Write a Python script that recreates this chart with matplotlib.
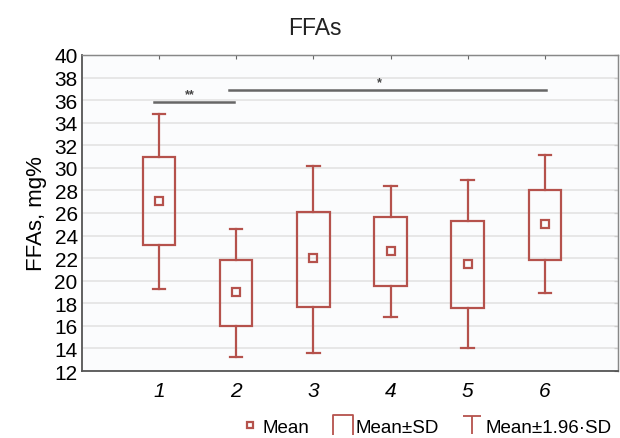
import matplotlib.pyplot as plt
from matplotlib.patches import Rectangle
from matplotlib.lines import Line2D
from matplotlib.path import Path

plt.rcParams['font.family'] = ['Liberation Sans', 'DejaVu Sans']

groups = [1, 2, 3, 4, 5, 6]
means = [27.1, 19.0, 22.0, 22.6, 21.5, 25.0]
sd_low = [23.2, 16.0, 17.7, 19.5, 17.6, 21.8]
sd_high = [31.0, 21.8, 26.1, 25.6, 25.3, 28.0]
ci_low = [19.3, 13.2, 13.6, 16.8, 14.0, 18.9]
ci_high = [34.8, 24.6, 30.2, 28.4, 28.9, 31.1]

# significance bars: (x start, x end, y, label)
sig_bars = [(0.94, 1.97, 35.85, '**'), (1.91, 6.01, 36.9, '*')]

red = '#b5524c'
box_w = 0.42
cap_w = 0.16

fig = plt.figure(figsize=(6.2, 4.39), dpi=100)
ax = fig.add_axes([0.132, 0.1526, 0.865, 0.72])
ax.set_facecolor('#fbfcfd')

for g, m, lo, hi, wl, wh in zip(groups, means, sd_low, sd_high, ci_low, ci_high):
    ax.add_patch(Rectangle((g - box_w / 2, lo), box_w, hi - lo, fill=False,
                           edgecolor=red, lw=1.6, zorder=3))
    ax.plot([g, g], [hi, wh], color=red, lw=1.6, zorder=3)
    ax.plot([g, g], [wl, lo], color=red, lw=1.6, zorder=3)
    ax.plot([g - cap_w / 2, g + cap_w / 2], [wh, wh], color=red, lw=1.6, zorder=3)
    ax.plot([g - cap_w / 2, g + cap_w / 2], [wl, wl], color=red, lw=1.6, zorder=3)
    ax.plot(g, m, marker='s', ms=6, mfc='none', mec=red, mew=1.6, zorder=4)

for x0, x1, y, lab in sig_bars:
    ax.plot([x0, x1], [y, y], color='#666666', lw=1.8, zorder=3)
    ax.text((x0 + x1) / 2 - (0.05 if lab == '**' else 0.1), y + 0.15, lab,
            ha='center', va='bottom', fontsize=9, color='#444444', fontweight='bold')

ax.set_xlim(0, 6.95)
ax.set_ylim(12, 40)
ax.set_yticks(range(12, 41, 2))
ax.set_xticks(groups)
ax.set_xticklabels([str(g) for g in groups], fontstyle='italic', fontsize=15)
ax.tick_params(axis='y', labelsize=15, length=0, pad=3)
ax.tick_params(axis='x', length=0, pad=7)
ax.yaxis.grid(True, color='#e3e3e3', lw=1.2)
ax.set_axisbelow(True)
# small ticks on the top and right spines
sec_x = ax.secondary_xaxis('top')
sec_x.set_xticks(groups)
sec_x.set_xticklabels([])
sec_x.tick_params(direction='in', length=3, color='#666666')
sec_y = ax.secondary_yaxis('right')
sec_y.set_yticks(range(12, 41, 2))
sec_y.set_yticklabels([])
sec_y.tick_params(direction='in', length=3, color='#666666')
for s in ['left', 'bottom']:
    ax.spines[s].set_color('#555555')
    ax.spines[s].set_linewidth(1.3)
for s in ['top', 'right']:
    ax.spines[s].set_color('#888888')
    ax.spines[s].set_linewidth(1.0)
sec_x.spines['top'].set_color('#888888')
sec_y.spines['right'].set_color('#888888')

ax.set_ylabel('FFAs, mg%', fontsize=16, labelpad=5)
fig.text(315 / 620, 1 - 35 / 439, 'FFAs', fontsize=16.5, ha='center', va='baseline',
         color='#222222')

box_path = Path([(-1, -1), (-1, 1), (1, 1), (1, -1)],
                [Path.MOVETO, Path.LINETO, Path.LINETO, Path.LINETO])
t_path = Path([(-1, 1), (1, 1), (0, 1), (0, -1)],
              [Path.MOVETO, Path.LINETO, Path.MOVETO, Path.LINETO])
handles = [
    Line2D([], [], ls='none', marker='s', ms=5, mfc='none', mec=red, mew=1.6),
    Line2D([], [], ls='none', marker=box_path, ms=14, mfc='none', mec=red, mew=1.3),
    Line2D([], [], ls='none', marker=t_path, ms=13, mfc='none', mec=red, mew=1.3),
]
fig.legend(handles, ['Mean', 'Mean±SD', 'Mean±1.96·SD'], loc='lower right',
           bbox_to_anchor=(1.013, -0.034), ncol=3, frameon=False, fontsize=13.5,
           handlelength=0.9, handletextpad=0.25, columnspacing=1.3)

fig.savefig('out.png', dpi=100)
